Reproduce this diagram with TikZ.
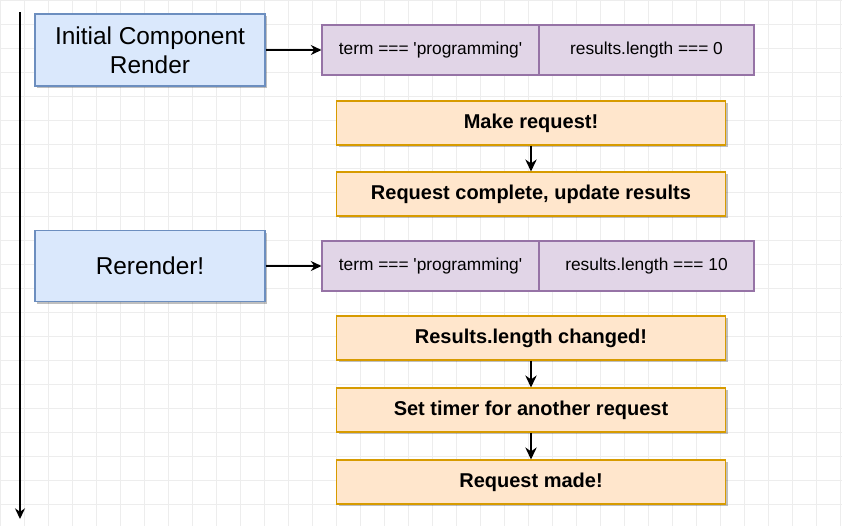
\documentclass[tikz,border=0pt]{standalone}
\usepackage{fontspec}
\setmainfont{Liberation Sans}
\usetikzlibrary{arrows.meta,shadows}

\definecolor{compfill}{HTML}{DAE8FC}
\definecolor{compline}{HTML}{6C8EBF}
\definecolor{statefill}{HTML}{E1D5E7}
\definecolor{stateline}{HTML}{9673A6}
\definecolor{stepfill}{HTML}{FFE6CC}
\definecolor{stepline}{HTML}{D79B00}

\newcommand{\sq}{\textquotesingle}

\tikzset{
  boxshadow/.style={drop shadow={shadow xshift=1.5pt,shadow yshift=-1.5pt,opacity=0.25,fill=black}},
  compbox/.style={draw=compline,fill=compfill,line width=0.8pt,boxshadow,
    minimum width=230*0.75pt,minimum height=72*0.75pt,align=center,
    font=\fontsize{18.3}{21.5}\selectfont,inner sep=0pt},
  statebox/.style={draw=stateline,fill=statefill,line width=0.8pt,
    minimum height=50*0.75pt,font=\fontsize{13}{15}\selectfont,inner sep=0pt},
  stepbox/.style={draw=stepline,fill=stepfill,line width=0.8pt,boxshadow,
    minimum width=389*0.75pt,minimum height=44*0.75pt,
    font=\fontsize{15}{18}\selectfont\bfseries,inner sep=0pt},
  flow/.style={line width=1.1pt,-{Stealth[length=8pt,width=7.5pt]}},
  downflow/.style={line width=1.3pt,-{Stealth[length=9pt,width=8.5pt]}}
}

\begin{document}
\begin{tikzpicture}[x=0.75pt,y=-0.75pt]
  \useasboundingbox[fill=white] (0,0) rectangle (842,526);
  % background grid
  \draw[black!7,line width=0.4pt,step=24*0.75pt] (0,0) grid (842,526);

  % time line
  \coordinate (ttop) at (20,12);
  \coordinate (tbot) at (20,519);
  \draw[flow] (ttop) -- (tbot);

  % first render
  \node[compbox] (init) at (150,50) {Initial Component\\Render};
  \node[statebox,minimum width=217*0.75pt] (term1) at (430.5,50) {term === \sq programming\sq};
  \node[statebox,minimum width=215*0.75pt] (len1) at (646.5,50) {results.length === 0};
  \draw[flow] (init.east) -- (term1.west);

  \node[stepbox] (make) at (531,123) {Make request!};
  \node[stepbox] (done) at (531,194) {Request complete, update results};
  \draw[downflow] (make) -- (done);

  % second render
  \node[compbox,minimum height=71*0.75pt] (rerender) at (150,266) {Rerender!};
  \node[statebox,minimum width=217*0.75pt] (term2) at (430.5,266) {term === \sq programming\sq};
  \node[statebox,minimum width=215*0.75pt] (len2) at (646.5,266) {results.length === 10};
  \draw[flow] (rerender.east) -- (term2.west);

  \node[stepbox] (changed) at (531,338) {Results.length changed!};
  \node[stepbox] (timer) at (531,410) {Set timer for another request};
  \node[stepbox] (made) at (531,482) {Request made!};
  \draw[downflow] (changed) -- (timer);
  \draw[downflow] (timer) -- (made);
\end{tikzpicture}
\end{document}
